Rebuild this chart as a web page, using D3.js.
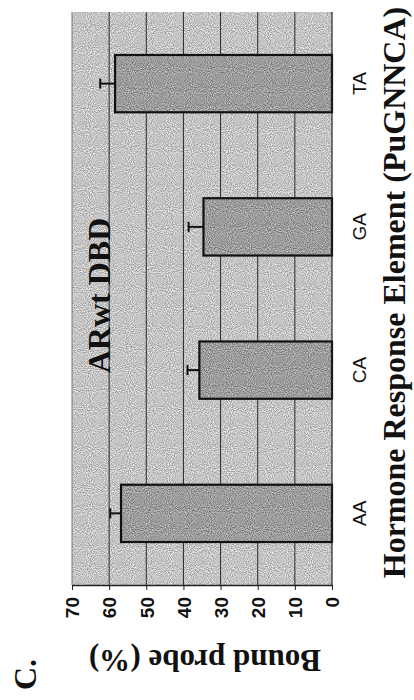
<!DOCTYPE html>
<html>
<head>
<meta charset="utf-8">
<script src="https://cdn.jsdelivr.net/npm/d3@7"></script>
<style>
  html, body { margin: 0; padding: 0; background: #fff; }
  svg { display: block; }
</style>
</head>
<body>
<div id="chart"></div>
<script>
// ---- data ----
const categories = ["AA", "CA", "GA", "TA"];
const boundValues = [56.8, 35.7, 34.6, 58.4];
const errorValues = [2.9, 3.2, 4.0, 4.0];
const valueTicks = [0, 10, 20, 30, 40, 50, 60, 70];
const chartTitle = "ARwt DBD";
const valueAxisTitle = "Bound probe (%)";
const categoryAxisTitle = "Hormone Response Element (PuGNNCA)";
const panelLabel = "C.";

const W = 414, H = 700;
const svg = d3.select("#chart").append("svg").attr("width", W).attr("height", H);

// grain filter to mimic the scanned halftone texture
const defs = svg.append("defs");
const f = defs.append("filter").attr("id", "grain")
  .attr("x", 0).attr("y", 0).attr("width", 1).attr("height", 1)
  .attr("color-interpolation-filters", "sRGB");
f.append("feTurbulence").attr("type", "fractalNoise").attr("baseFrequency", 0.95)
  .attr("numOctaves", 1).attr("seed", 7).attr("result", "noise");
f.append("feColorMatrix").attr("in", "noise").attr("type", "matrix")
  .attr("values", "1 0 0 0 0  1 0 0 0 0  1 0 0 0 0  0 0 0 0 1").attr("result", "gray");
f.append("feComposite").attr("in", "SourceGraphic").attr("in2", "gray")
  .attr("operator", "arithmetic").attr("k1", 0).attr("k2", 1).attr("k3", 0.7).attr("k4", -0.35);

// rotated chart: values run right-to-left, categories bottom-to-top
const plot = { left: 72, right: 332, top: 12, bottom: 585 };

const x = d3.scaleLinear().domain([0, 70]).range([plot.right, plot.left]);
const y = d3.scaleBand().domain(categories).range([plot.bottom, plot.top]).paddingInner(0.6).paddingOuter(0.3);

const data = categories.map((c, i) => ({ cat: c, v: boundValues[i], e: errorValues[i] }));

// background
svg.append("rect")
  .attr("x", plot.left).attr("y", plot.top)
  .attr("width", plot.right - plot.left).attr("height", plot.bottom - plot.top)
  .attr("fill", "#c4c4c4")
  .attr("filter", "url(#grain)");

// gridlines
svg.append("g").selectAll("line")
  .data(valueTicks.filter(t => t > 0 && t < 70))
  .join("line")
  .attr("x1", d => x(d)).attr("x2", d => x(d))
  .attr("y1", plot.top).attr("y2", plot.bottom)
  .attr("stroke", "#2a2a2a").attr("stroke-width", 1);

// left edge (70) faint line
svg.append("line")
  .attr("x1", x(70)).attr("x2", x(70)).attr("y1", plot.top).attr("y2", plot.bottom)
  .attr("stroke", "#777").attr("stroke-width", 1);

// bars
const barG = svg.append("g");
barG.selectAll("rect.fill")
  .data(data)
  .join("rect").attr("class", "fill")
  .attr("x", d => x(d.v))
  .attr("y", d => y(d.cat))
  .attr("width", d => x(0) - x(d.v))
  .attr("height", y.bandwidth())
  .attr("fill", "#9c9c9c")
  .attr("filter", "url(#grain)");
barG.selectAll("rect.edge")
  .data(data)
  .join("rect").attr("class", "edge")
  .attr("x", d => x(d.v))
  .attr("y", d => y(d.cat))
  .attr("width", d => x(0) - x(d.v))
  .attr("height", y.bandwidth())
  .attr("fill", "none")
  .attr("stroke", "#111")
  .attr("stroke-width", 2.2);

// error bars
const eb = svg.append("g").attr("stroke", "#111").attr("stroke-width", 2);
eb.selectAll("line.stem").data(data).join("line").attr("class", "stem")
  .attr("x1", d => x(d.v)).attr("x2", d => x(d.v + d.e))
  .attr("y1", d => y(d.cat) + y.bandwidth() / 2).attr("y2", d => y(d.cat) + y.bandwidth() / 2);
eb.selectAll("line.cap").data(data).join("line").attr("class", "cap")
  .attr("x1", d => x(d.v + d.e)).attr("x2", d => x(d.v + d.e))
  .attr("y1", d => y(d.cat) + y.bandwidth() / 2 - 5).attr("y2", d => y(d.cat) + y.bandwidth() / 2 + 5);

// category axis line (value 0)
svg.append("line")
  .attr("x1", x(0)).attr("x2", x(0)).attr("y1", plot.top).attr("y2", plot.bottom)
  .attr("stroke", "#222").attr("stroke-width", 1.2);

// value axis
const axis = svg.append("g")
  .attr("transform", `translate(0,${plot.bottom})`)
  .call(d3.axisBottom(x).tickValues(valueTicks).tickSize(5).tickSizeOuter(0));
axis.select(".domain").attr("stroke", "#222").attr("stroke-width", 1.5);
axis.selectAll(".tick line").attr("stroke", "#222");
axis.selectAll(".tick text")
  .attr("transform", "rotate(-90)")
  .attr("x", -12).attr("y", 0).attr("dy", "0.36em")
  .attr("text-anchor", "end")
  .style("font-family", "'Liberation Sans', Arial, sans-serif")
  .style("font-size", "19px")
  .style("font-weight", "bold")
  .attr("fill", "#111");

// category labels
svg.append("g").selectAll("text")
  .data(categories)
  .join("text")
  .attr("transform", d => `translate(366,${y(d) + y.bandwidth() / 2}) rotate(-90)`)
  .attr("text-anchor", "middle")
  .style("font-family", "'Liberation Sans', Arial, sans-serif")
  .style("font-size", "19px")
  .attr("fill", "#111")
  .text(d => d);

const serif = "'Liberation Serif', 'Times New Roman', serif";

// chart title inside plot
svg.append("text")
  .attr("transform", `translate(110,${(plot.top + plot.bottom) / 2 - 3}) rotate(-90)`)
  .attr("text-anchor", "middle")
  .style("font-family", serif).style("font-size", "32px").style("font-weight", "bold")
  .attr("fill", "#111")
  .text(chartTitle);

// category axis title
svg.append("text")
  .attr("transform", `translate(405,${(plot.top + plot.bottom) / 2 - 6}) rotate(-90)`)
  .attr("text-anchor", "middle")
  .style("font-family", serif).style("font-size", "32px").style("font-weight", "bold")
  .attr("fill", "#111")
  .text(categoryAxisTitle);

// value axis title (upside down)
svg.append("text")
  .attr("transform", `translate(205,650) rotate(180)`)
  .attr("text-anchor", "middle")
  .style("font-family", serif).style("font-size", "31px").style("font-weight", "bold")
  .attr("fill", "#111")
  .text(valueAxisTitle);

// panel label
svg.append("text")
  .attr("transform", `translate(36,690) rotate(-90)`)
  .attr("text-anchor", "start")
  .style("font-family", serif).style("font-size", "32px").style("font-weight", "bold")
  .attr("fill", "#111")
  .text(panelLabel);
</script>
</body>
</html>
